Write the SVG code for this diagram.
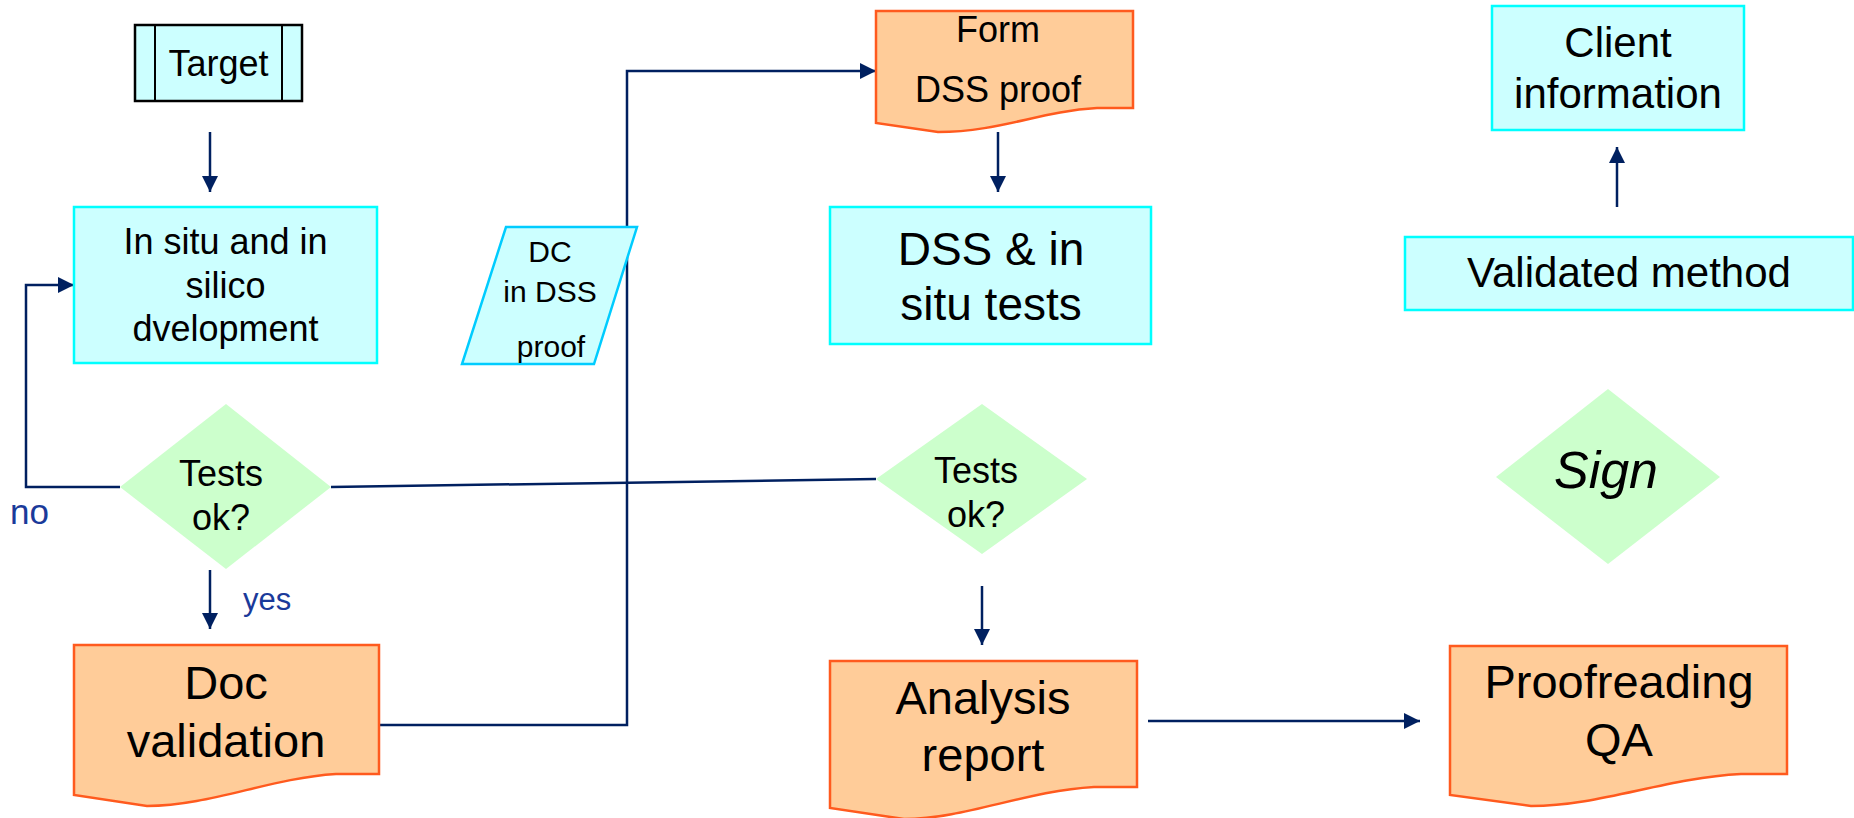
<svg xmlns="http://www.w3.org/2000/svg" width="1854" height="818" viewBox="0 0 1854 818">
<style>
  text { font-family: "Liberation Sans", Arial, sans-serif; fill: #000; text-anchor: middle; }
  .box { fill: #CCFFFF; stroke: #00FFFF; stroke-width: 2.5; }
  .para { fill: #CCFFFF; stroke: #00CCFF; stroke-width: 2.5; }
  .doc { fill: #FFCC99; stroke: #FF5A1E; stroke-width: 2.5; }
  .dia { fill: #CCFFCC; stroke: none; }
  .conn { fill: none; stroke: #002060; stroke-width: 2.5; }
  .lbl { fill: #1A3A9A; text-anchor: start; }
</style>
<defs>
  <marker id="arr" markerUnits="userSpaceOnUse" markerWidth="16" markerHeight="16" refX="16" refY="8" orient="auto">
    <path d="M0,0 L16,8 L0,16 Z" fill="#002060"/>
  </marker>
</defs>
<rect width="1854" height="818" fill="#FFFFFF"/>

<g id="connectors">
  <line class="conn" x1="210" y1="132" x2="210" y2="192" marker-end="url(#arr)"/>
  <polyline class="conn" points="120,487 26,487 26,285 74,285" marker-end="url(#arr)"/>
  <line class="conn" x1="210" y1="570" x2="210" y2="629" marker-end="url(#arr)"/>
  <polyline class="conn" points="379,725 627,725 627,71 876,71" marker-end="url(#arr)"/>
  <line class="conn" x1="331" y1="487" x2="876" y2="479"/>
  <line class="conn" x1="998" y1="132" x2="998" y2="192" marker-end="url(#arr)"/>
  <line class="conn" x1="982" y1="586" x2="982" y2="645" marker-end="url(#arr)"/>
  <line class="conn" x1="1148" y1="721" x2="1420" y2="721" marker-end="url(#arr)"/>
  <line class="conn" x1="1617" y1="207" x2="1617" y2="147" marker-end="url(#arr)"/>
</g>

<g id="target">
  <rect x="135" y="25" width="167" height="76" fill="#CCFFFF" stroke="#000" stroke-width="2.5"/>
  <line x1="155" y1="25" x2="155" y2="101" stroke="#000" stroke-width="2"/>
  <line x1="282" y1="25" x2="282" y2="101" stroke="#000" stroke-width="2"/>
  <text x="218.5" y="76" font-size="36">Target</text>
</g>

<g id="insitu">
  <rect class="box" x="74" y="207" width="303" height="156"/>
  <text x="225.5" font-size="36"><tspan x="225.5" y="254">In situ and in</tspan><tspan x="225.5" y="297.5">silico</tspan><tspan x="225.5" y="341">dvelopment</tspan></text>
</g>

<g id="dc-dss">
  <polygon class="para" points="506,227 637,227 594,364 462,364"/>
  <text font-size="30"><tspan x="550" y="262">DC</tspan><tspan x="550" y="302">in DSS</tspan><tspan x="551" y="357">proof</tspan></text>
</g>

<g id="form-dss">
  <path class="doc" d="M876,11 H1133 V108 H1097 C1040,111 1000,132 938,132 L876,123 Z"/>
  <text font-size="36"><tspan x="998" y="42">Form</tspan><tspan x="998" y="102">DSS proof</tspan></text>
</g>

<g id="dss-tests">
  <rect class="box" x="830" y="207" width="321" height="137"/>
  <text font-size="46"><tspan x="991" y="265">DSS &amp; in</tspan><tspan x="991" y="320">situ tests</tspan></text>
</g>

<g id="tests1">
  <polygon class="dia" points="226,404 331,487 226,569 120,487"/>
  <text font-size="36"><tspan x="221" y="486">Tests</tspan><tspan x="221" y="530">ok?</tspan></text>
  <text class="lbl" x="10" y="524" font-size="35">no</text>
  <text class="lbl" x="243" y="610" font-size="31">yes</text>
</g>

<g id="doc-validation">
  <path class="doc" d="M74,645 H379 V774 H336 C270,778 210,806 147,806 L74,795 Z"/>
  <text font-size="47"><tspan x="226" y="699">Doc</tspan><tspan x="226" y="757">validation</tspan></text>
</g>

<g id="tests2">
  <polygon class="dia" points="982,404 1087,479 982,554 876,479"/>
  <text font-size="36"><tspan x="976" y="483">Tests</tspan><tspan x="976" y="527">ok?</tspan></text>
</g>

<g id="analysis">
  <path class="doc" d="M830,661 H1137 V787 H1094 C1025,791 965,819 904,819 L830,808 Z"/>
  <text font-size="47"><tspan x="983" y="714">Analysis</tspan><tspan x="983" y="771">report</tspan></text>
</g>

<g id="sign">
  <polygon class="dia" points="1608,389 1720,477 1608,564 1496,477"/>
  <text x="1606" y="488" font-size="52" font-style="italic">Sign</text>
</g>

<g id="proofreading">
  <path class="doc" d="M1450,646 H1787 V774 H1741 C1665,778 1600,806 1531,806 L1450,795 Z"/>
  <text font-size="47"><tspan x="1619" y="698">Proofreading</tspan><tspan x="1619" y="756">QA</tspan></text>
</g>

<g id="validated">
  <rect class="box" x="1405" y="237" width="448" height="73"/>
  <text x="1629" y="287" font-size="42">Validated method</text>
</g>

<g id="client">
  <rect class="box" x="1492" y="6" width="252" height="124"/>
  <text font-size="42"><tspan x="1618" y="57">Client</tspan><tspan x="1618" y="108">information</tspan></text>
</g>
</svg>
